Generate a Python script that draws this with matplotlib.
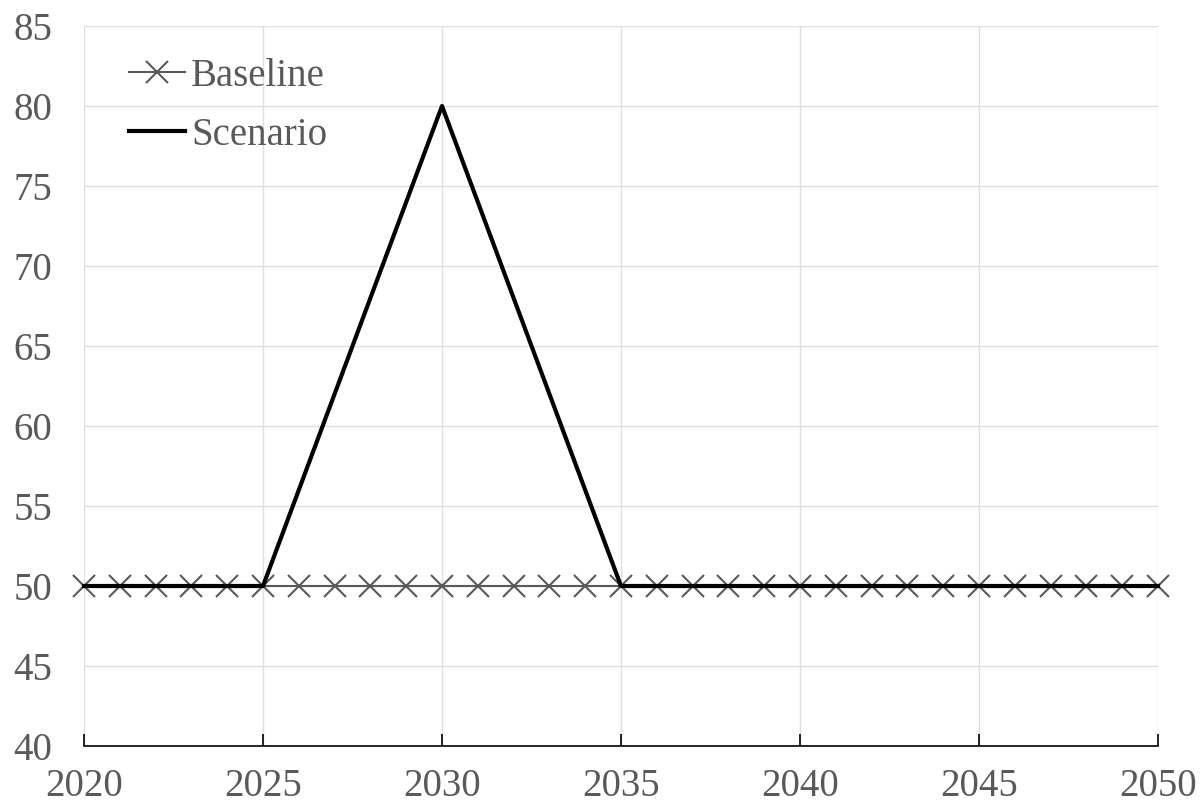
import matplotlib
matplotlib.use("Agg")
import matplotlib.pyplot as plt

years = list(range(2020, 2051))
baseline = [50] * 31
scenario = [50, 50, 50, 50, 50, 50, 56, 62, 68, 74, 80, 74, 68, 62, 56, 50,
            50, 50, 50, 50, 50, 50, 50, 50, 50, 50, 50, 50, 50, 50, 50]
x_ticks = [2020, 2025, 2030, 2035, 2040, 2045, 2050]
y_ticks = [40, 45, 50, 55, 60, 65, 70, 75, 80, 85]

plt.rcParams['font.family'] = ['Liberation Serif', 'DejaVu Serif']
text_color = '#595959'

fig = plt.figure(figsize=(12.01, 8.07), dpi=100)
ax = fig.add_axes([84 / 1201, 61 / 807, 1074 / 1201, 720 / 807])

ax.plot(years, baseline, color='#595959', lw=1.5, marker='x', markersize=16,
        markeredgewidth=1.5, markeredgecolor='#595959', label='Baseline',
        clip_on=False, zorder=3)
ax.plot(years, scenario, color='black', lw=3, label='Scenario',
        clip_on=False, zorder=4)

ax.set_xlim(2020, 2050)
ax.set_ylim(40, 85)
ax.set_xticks(x_ticks)
ax.set_yticks(y_ticks)
ax.grid(True, color='#dedede', lw=1)
ax.set_axisbelow(True)

for side in ['top', 'right', 'left']:
    ax.spines[side].set_visible(False)
ax.spines['bottom'].set_color('black')
ax.spines['bottom'].set_linewidth(1.2)

ax.tick_params(axis='x', direction='in', length=9, width=1.2, color='black',
               labelsize=28, labelcolor=text_color, pad=16)
ax.tick_params(axis='y', length=0, labelsize=28, labelcolor=text_color, pad=23)

leg = ax.legend(loc='upper left', frameon=False, fontsize=28,
                handlelength=1.45, handletextpad=0.15, labelspacing=0.56,
                bbox_to_anchor=(0.02, 0.988), borderaxespad=0.2)
for t in leg.get_texts():
    t.set_color(text_color)

fig.savefig('out.png', dpi=100)
